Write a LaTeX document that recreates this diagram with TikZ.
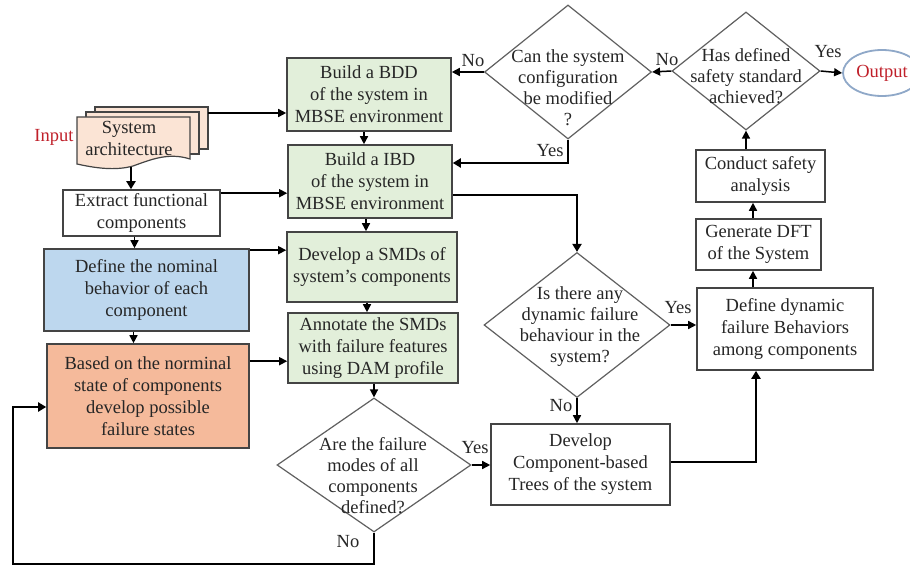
\documentclass[tikz,border=0pt]{standalone}
\usepackage{fontspec}
\setmainfont{Liberation Serif}
\usetikzlibrary{shapes.geometric,arrows.meta}
\definecolor{gfill}{HTML}{E2EFDA}
\definecolor{bfill}{HTML}{BDD7EE}
\definecolor{ofill}{HTML}{F5BA9B}
\definecolor{dfill}{HTML}{FBE4D5}
\definecolor{edgec}{HTML}{444444}
\definecolor{inred}{HTML}{C0202A}
\definecolor{ellc}{HTML}{8FA8C8}
\begin{document}
\begin{tikzpicture}[x=1pt,y=-1pt,
  every node/.style={font=\fontsize{18.5}{22}\selectfont, text=black!85},
  box/.style={draw=edgec, line width=1.6pt, align=center, inner sep=1pt},
  gbox/.style={box, fill=gfill},
  dia/.style={diamond, draw=edgec!85, line width=1.2pt, inner sep=0pt},
  dtext/.style={align=center, inner sep=0pt, font=\fontsize{18.5}{21}\selectfont},
  docst/.style={draw=edgec, line width=1.2pt, fill=dfill},
  arr/.style={line width=1.5pt, -{Triangle[length=8pt,width=8pt]}},
  arrb/.style={line width=2.5pt, -{Triangle[length=8pt,width=9pt]}},
  lbl/.style={inner sep=0pt}
]
\useasboundingbox (0,0) rectangle (910,569);
\fill[white] (0,0) rectangle (910,569);

% document stack
\draw[docst] (95,107) rectangle (208,149);
\draw[docst] (86,112) rectangle (199,154);
\draw[docst] (77,117) -- (190,117) -- (190,159) .. controls (168,152) and (150,160) .. (133,166) .. controls (115,171) and (95,168) .. (77,164) -- cycle;
\node[align=center, inner sep=0pt] (sys) at (129,138) {System\\architecture};
\node[lbl, text=inred] (inlbl) at (54,137) {Input};
\coordinate (docR) at (208,113);
\coordinate (docBot) at (131,167);

% boxes
\node[gbox, minimum width=164, minimum height=73] (bdd) at (369,94.5) {Build a BDD\\of the system in\\MBSE environment};
\node[gbox, minimum width=164, minimum height=73] (ibd) at (370,181.5) {Build a IBD\\of the system in\\MBSE environment};
\node[gbox, minimum width=170, minimum height=70] (smd) at (372,267) {Develop a SMDs of\\system’s components};
\node[gbox, minimum width=170, minimum height=70] (ann) at (373,348) {Annotate the SMDs\\with failure features\\using DAM profile};
\node[box, fill=white, minimum width=157, minimum height=46] (ext) at (141.5,213) {Extract functional\\components};
\node[box, fill=bfill, minimum width=205, minimum height=82] (def) at (146.5,290) {Define the nominal\\behavior of each\\component};
\node[box, fill=ofill, minimum width=202, minimum height=104] (bas) at (148,396) {Based on the norminal\\state of components\\develop possible\\failure states};
\node[box, minimum width=179, minimum height=81] (cbt) at (580.5,464.5) {Develop\\Component-based\\Trees of the system};
\node[box, minimum width=176, minimum height=82] (ddb) at (785,329) {Define dynamic\\failure Behaviors\\among components};
\node[box, minimum width=125, minimum height=51] (dft) at (758.5,244.5) {Generate DFT\\of the System};
\node[box, minimum width=129, minimum height=52] (csa) at (760.5,176) {Conduct safety\\analysis};

% diamonds
\node[dia, minimum width=194, minimum height=134] (d3) at (374,465) {};
\node[dtext] (d3t) at (373,476) {Are the failure\\modes of all\\components\\defined?};
\node[dia, minimum width=186, minimum height=145] (d2) at (577,325) {};
\node[dtext] (d2t) at (580,327) {Is there any\\dynamic failure\\behaviour in the\\system?};
\node[dia, minimum width=148, minimum height=118] (d1) at (746,71) {};
\node[dtext] (d1t) at (746,76) {Has defined\\safety standard\\achieved?};
\node[dia, minimum width=167, minimum height=134] (d0) at (568,72) {};
\node[dtext] (d0t) at (568,88) {Can the system\\configuration\\be modified\\?};

% output
\node[ellipse, draw=ellc, line width=1.8pt, minimum width=78, minimum height=46, inner sep=0pt, text=inred] (out) at (882,73) {Output};

% connectors
\draw[arr] (docR) -- (docR -| bdd.west);
\draw[arrb] (docBot) -- (docBot |- ext.north);
\draw[arr] ([yshift=-4pt]ext.north east) -- ([yshift=-4pt]ext.north east -| ibd.west);
\draw[arr] ([xshift=-7pt]ext.south) -- ([xshift=-7pt]ext.south |- def.north);
\draw[arr] ([yshift=-2pt]def.north east) -- ([yshift=-2pt]def.north east -| smd.west);
\draw[arr] ([xshift=-13pt]def.south) -- ([xshift=-13pt]def.south |- bas.north);
\draw[arr] ([yshift=-18pt]bas.north east) -- ([yshift=-18pt]bas.north east -| ann.west);
\draw[arr] ([xshift=-5pt]bdd.south) -- ([xshift=-5pt]bdd.south |- ibd.north);
\draw[arr] ([xshift=-4pt]ibd.south) -- ([xshift=-4pt]ibd.south |- smd.north);
\draw[arr] ([xshift=-5pt]smd.south) -- ([xshift=-5pt]smd.south |- ann.north);
\draw[arr] (d3.north |- ann.south) -- (d3.north);
\coordinate (loopL) at (13,564);
\draw[arrb] (d3.south) |- (loopL) |- ([yshift=-11pt]bas.west);
\draw[arr] (d3.east) -- (d3.east -| cbt.west);
\draw[arr] (d2.south) -- (d2.south |- cbt.north);
\draw[arr] (d2.east) -- (d2.east -| ddb.west);
\draw[arrb] ([yshift=2.5pt]cbt.east) -| ([xshift=-29pt]ddb.south);
\draw[arr] ([xshift=-32pt]ddb.north) -- ([xshift=-32pt]ddb.north |- dft.south);
\draw[arr] ([xshift=-5.5pt]dft.north) -- ([xshift=-5.5pt]dft.north |- csa.south);
\draw[arr] (d1.south |- csa.north) -- (d1.south);
\draw[arr] (d1.east) -- (out.west);
\draw[arr] (d1.west) -- (d0.east);
\draw[arr] (d0.west) -- (d0.west -| bdd.east);
\draw[arrb] (d0.south) |- ([yshift=18.5pt]ibd.east);
\draw[arrb] ([yshift=-13.5pt]ibd.east) -| (d2.north);

% labels
\node[lbl] (l1) at (473,61) {No};
\node[lbl] (l2) at (550,151) {Yes};
\node[lbl] (l3) at (667,60) {No};
\node[lbl] (l4) at (828,52) {Yes};
\node[lbl] (l5) at (678,308) {Yes};
\node[lbl] (l6) at (561,406) {No};
\node[lbl] (l7) at (475,448) {Yes};
\node[lbl] (l8) at (348,542) {No};
\end{tikzpicture}
\end{document}
